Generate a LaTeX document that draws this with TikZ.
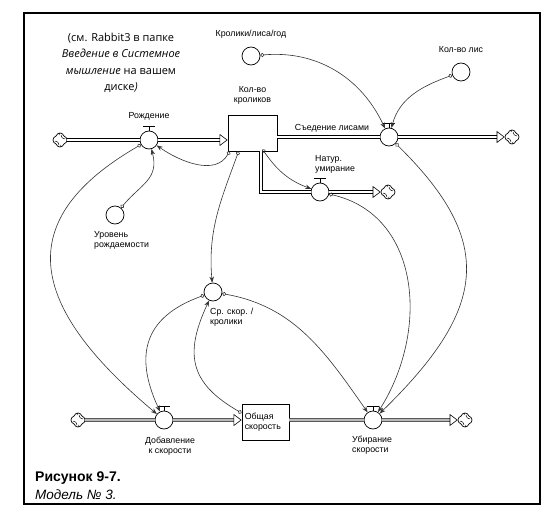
\documentclass[tikz,border=0pt]{standalone}
\usepackage{fontspec}
\setmainfont{Liberation Sans}
\newfontfamily\notefont{Open Sans}
\usetikzlibrary{shapes,shapes.symbols,arrows.meta,positioning,calc}

\tikzset{
  stock/.style={draw, rectangle, fill=white, line width=0.8pt, minimum width=49pt, minimum height=36pt, inner sep=0pt},
  valve/.style={draw, circle, fill=white, minimum size=18pt, inner sep=0pt, line width=0.7pt},
  aux/.style={draw, circle, fill=white, minimum size=18pt, inner sep=0pt, line width=0.7pt},
  sink/.style={draw, cloud, cloud puffs=4, cloud puff arc=150, aspect=1, minimum size=14pt, inner sep=0pt, line width=0.7pt,
    path picture={
      \draw[line width=0.5pt] (path picture bounding box.center) ++(-1,-5) arc[start angle=180,end angle=270,radius=4];
      \draw[line width=0.5pt] (path picture bounding box.center) ++(5,-1) arc[start angle=90,end angle=180,radius=4];
      \draw[line width=0.5pt] (path picture bounding box.center) ++(1,5) arc[start angle=0,end angle=90,radius=4];
      \draw[line width=0.5pt] (path picture bounding box.center) ++(-5,1) arc[start angle=-90,end angle=0,radius=4];
    }},
  lbl/.style={font=\fontsize{8.8}{10}\selectfont, inner sep=1pt, align=center},
  pipe/.style={line width=1pt, double=white, double distance=2pt},
  greypipe/.style={draw=gray!70!black, line width=0.8pt, double=gray!55, double distance=2.6pt},
  flowtip/.style={-{Triangle[open, length=8pt, width=12pt, line width=0.6pt, color=black]}},
  link/.style={draw=black!80, line width=0.6pt, {Circle[open, length=4pt, width=4pt]}-{Stealth[length=6pt, width=4.5pt]}},
}

\begin{document}
\begin{tikzpicture}[x=1pt,y=-1pt]
  \useasboundingbox (0,0) rectangle (559,516);
  \draw[line width=1.8pt] (24,13) rectangle (540,504);

  % note
  \node[font=\notefont\fontsize{11}{16.5}\selectfont, align=center] (note) at (121,63)
    {(см. Rabbit3 в папке\\ \textit{Введение в Системное}\\ \textit{мышление} на вашем\\ диске\textit{)}};

  % stocks
  \node[stock] (rabbits) at (252.5,133) {};
  \node[stock, minimum width=47pt] (speed) at (265.5,422) {};

  % valves
  \node[valve] (birth) at (149,140) {};
  \node[valve] (eaten) at (389,137) {};
  \node[valve] (death) at (320,192) {};
  \node[valve] (addv) at (164,420) {};
  \node[valve] (remv) at (373,420) {};
  \foreach \v in {birth,eaten,death,addv,remv}
    \draw[line width=0.7pt] (\v.north) -- ++(0,-4) ++(-6,0) edge[line width=1.6pt] ++(12,0);

  % clouds
  \node[sink] (src1) at (60,140) {};
  \node[sink] (snk1) at (512,137) {};
  \node[sink] (snk2) at (388,192) {};
  \node[sink] (src2) at (78,420) {};
  \node[sink] (snk3) at (465,420) {};

  % auxiliaries
  \node[aux] (rate) at (115,215) {};
  \node[aux] (perfox) at (251,56) {};
  \node[aux] (foxes) at (461,72) {};
  \node[aux] (avg) at (213,292) {};

  % pipes
  \coordinate (drain) at ([xshift=8.5pt]rabbits.south);
  \coordinate (corner) at (drain |- death);
  \draw[pipe] (src1) -- (birth);
  \draw[pipe, flowtip] (birth) -- (birth -| rabbits.west);
  \draw[pipe] (rabbits.east |- eaten) -- (eaten);
  \draw[pipe, flowtip] (eaten) -- (snk1);
  \draw[pipe] (drain) -- (corner) -- (death);
  \draw[pipe, flowtip] (death) -- (snk2);
  \draw[greypipe] (src2) -- (addv);
  \draw[greypipe, flowtip] (addv) -- (addv -| speed.west);
  \draw[greypipe] (speed.east |- remv) -- (remv);
  \draw[greypipe, flowtip] (remv) -- (snk3);

  % labels
  \node[lbl, above=9pt of birth] (birthlbl) {Рождение};
  \node[lbl, above=9pt of rabbits] (rabbitslbl) {Кол-во\\кроликов};
  \node[lbl, above=7pt of perfox] (perfoxlbl) {Кролики/лиса/год};
  \node[lbl, above=9pt of foxes] (foxeslbl) {Кол-во лис};
  \node[lbl] (eatenlbl) at (332,128) {Съедение лисами};
  \node[lbl, align=left, anchor=west] (deathlbl) at (314,164) {Натур.\\умирание};
  \node[lbl, align=left, anchor=west] (ratelbl) at (93,240) {Уровень\\рождаемости};
  \node[lbl, align=left, anchor=west] (avglbl) at (209,317) {Ср. скор. /\\кролики};
  \node[lbl] (addvlbl) at (170,446) {Добавление\\к скорости};
  \node[lbl, align=left, anchor=west] (remvlbl) at (351,445) {Убирание\\скорости};
  \node[lbl, align=left, anchor=west] (speedlbl) at ([xshift=2pt]speed.west) {Общая\\скорость};

  % connectors
  \draw[link] ([xshift=2pt]rabbits.south west) to[out=-120,in=-35] (birth);
  \draw[link] (rate) to[out=50,in=-75,looseness=1.2] (birth);
  \draw[link] (birth) to[out=-150,in=140,looseness=1.5] (addv);
  \draw[link] ([xshift=11pt]rabbits.south west) to[out=-110,in=95] (avg);
  \draw[link] ([xshift=10pt,yshift=2pt]rabbits.south) to[out=-55,in=160] (death);
  \draw[link] (perfox) to[out=5,in=115] (eaten);
  \draw[link] (foxes) to[out=-160,in=75] (eaten);
  \draw[link] (eaten) .. controls +(108,106) and +(113,-110) .. (remv);
  \draw[link] (death) .. controls +(100,23) and +(57,-90) .. (remv);
  \draw[link] (avg) to[out=-10,in=125] (remv);
  \draw[link] (avg) to[out=-160,in=115,looseness=1.3] (addv);
  \draw[link] ([yshift=9pt]speed.west) to[out=150,in=-115,looseness=1.3] (avg);

  % caption
  \node[anchor=west, inner sep=0pt, font=\fontsize{14}{16}\selectfont\bfseries] (fig) at (35,478) {Рисунок 9-7.};
  \node[anchor=west, inner sep=0pt, font=\fontsize{13.5}{16}\selectfont\itshape] (model) at (35,495) {Модель № 3.};
\end{tikzpicture}
\end{document}
